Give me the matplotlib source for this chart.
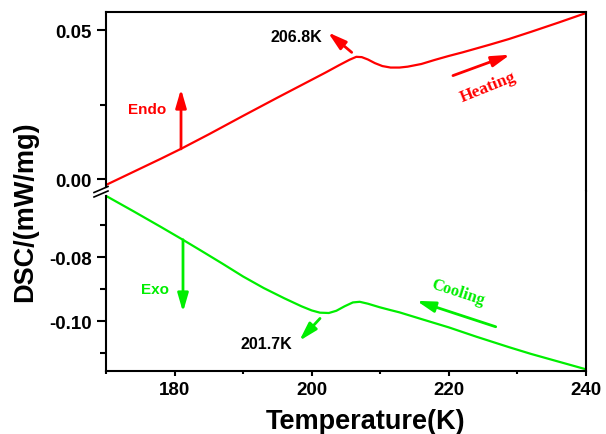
import matplotlib
matplotlib.use("Agg")
import matplotlib.pyplot as plt
from matplotlib.lines import Line2D
from matplotlib.ticker import FixedLocator, FormatStrFormatter

plt.rcParams['font.family'] = ['Liberation Sans', 'DejaVu Sans']
plt.rcParams['font.weight'] = 'bold'

# heating curve (red, upper panel)
temp_heat = [170, 174, 178, 181, 185, 190, 195, 200, 202, 204, 205.5, 206.5, 207.3,
             208.2, 209.2, 210.3, 211.5, 212.8, 214, 216, 218, 220, 222, 224, 226,
             228.8, 232, 236, 240]
dsc_heat = [-0.0020, 0.0024, 0.0068, 0.0102, 0.0150, 0.0212, 0.0273, 0.0333, 0.0357,
            0.0382, 0.0400, 0.0410, 0.0409, 0.0401, 0.0389, 0.0379, 0.0374, 0.0374,
            0.0377, 0.0386, 0.0400, 0.0413, 0.0425, 0.0438, 0.0451, 0.0470, 0.0494,
            0.0525, 0.0557]

# cooling curve (green, lower panel)
temp_cool = [170, 174, 178, 181.2, 184, 187, 190, 193, 196, 198.5, 200, 201.2, 202.5,
             203.6, 204.8, 206, 207, 208.2, 209.9, 211.5, 212.8, 216, 220, 224, 228.8,
             232, 236, 240]
dsc_cool = [-0.0608, -0.0656, -0.0705, -0.0745, -0.0781, -0.0820, -0.0860, -0.0896,
            -0.0928, -0.0953, -0.0966, -0.0973, -0.0974, -0.0967, -0.0953, -0.0941,
            -0.0939, -0.0945, -0.0956, -0.0965, -0.0972, -0.0993, -0.1019, -0.1048,
            -0.1081, -0.1102, -0.1126, -0.1150]

red = '#ff0000'
green = '#00ee00'

fig = plt.figure(figsize=(6.06, 4.35), dpi=100)
ax1 = fig.add_axes([0.1749, 0.5586, 0.7921, 0.4115])
ax2 = fig.add_axes([0.1749, 0.1448, 0.7921, 0.4138])

ax1.plot(temp_heat, dsc_heat, color=red, lw=1.6)
ax2.plot(temp_cool, dsc_cool, color=green, lw=1.6)

for ax in (ax1, ax2):
    ax.set_xlim(170, 240)
    for s in ax.spines.values():
        s.set_linewidth(1.5)
    ax.tick_params(axis='y', which='major', direction='out', length=6.5, width=1.5,
                   labelsize=13.5, pad=3.5)
    ax.tick_params(axis='y', which='minor', direction='out', length=4.3, width=1.5)

ax1.set_ylim(-0.00403, 0.05604)
ax1.spines['bottom'].set_visible(False)
ax1.spines['left'].set_bounds(-0.0027, 0.05604)
ax1.tick_params(axis='x', which='both', bottom=False, labelbottom=False)
ax1.yaxis.set_major_locator(FixedLocator([0.0, 0.05]))
ax1.yaxis.set_minor_locator(FixedLocator([0.025]))
ax1.yaxis.set_major_formatter(FormatStrFormatter('%.2f'))

ax2.set_ylim(-0.11553, -0.05928)
ax2.spines['top'].set_visible(False)
ax2.spines['left'].set_bounds(-0.11553, -0.0608)
ax2.yaxis.set_major_locator(FixedLocator([-0.08, -0.10]))
ax2.yaxis.set_minor_locator(FixedLocator([-0.07, -0.09, -0.11]))
ax2.yaxis.set_major_formatter(FormatStrFormatter('%.2f'))
ax2.xaxis.set_major_locator(FixedLocator([180, 200, 220, 240]))
ax2.xaxis.set_minor_locator(FixedLocator([170, 190, 210, 230]))
ax2.tick_params(axis='x', which='major', direction='out', length=3.5, width=1.5,
                labelsize=13.5, pad=3.5)
ax2.tick_params(axis='x', which='minor', direction='out', length=2.5, width=1.5)

# axis break marks
W, H = 606.0, 435.0
for y0 in (193.5, 198.0):
    fig.add_artist(Line2D([94 / W, 108 / W], [1 - y0 / H, 1 - (y0 - 6) / H],
                          transform=fig.transFigure, color='black', lw=1.2))

fig.text(25 / W, 1 - 211.7 / H, 'DSC/(mW/mg)', rotation=90, ha='center', va='center',
         fontsize=19.5, fontweight='bold')
fig.text(366 / W, 1 - 429 / H, 'Temperature(K)', ha='center', va='baseline',
         fontsize=19.5, fontweight='bold')

arrow = dict(arrowstyle='-|>,head_length=1.1,head_width=0.32', mutation_scale=10,
             lw=2, shrinkA=0, shrinkB=0)

# upper panel annotations
ax1.text(175.98, 0.0235, 'Endo', color=red, fontsize=11, ha='center', va='center')
ax1.annotate('', xy=(180.94, 0.0302), xytext=(180.94, 0.0101),
             arrowprops=dict(arrow, color=red))
ax1.text(197.71, 0.0477, '206.8K', color='black', fontsize=11.5, ha='center', va='center')
ax1.annotate('', xy=(202.37, 0.0492), xytext=(205.83, 0.0425),
             arrowprops=dict(arrow, color=red))
ax1.text(225.71, 0.0309, 'Heating', color=red, fontsize=12.5, rotation=22,
         ha='center', va='center', family='Liberation Serif')
ax1.annotate('', xy=(228.92, 0.0417), xytext=(220.6, 0.0347),
             arrowprops=dict(arrow, color=red))

# lower panel annotations
ax2.text(177.15, -0.0899, 'Exo', color=green, fontsize=11, ha='center', va='center')
ax2.annotate('', xy=(181.23, -0.0971), xytext=(181.23, -0.0745),
             arrowprops=dict(arrow, color=green))
ax2.text(193.33, -0.1068, '201.7K', color='black', fontsize=11.5, ha='center', va='center')
ax2.annotate('', xy=(198.19, -0.1061), xytext=(201.21, -0.0991),
             arrowprops=dict(arrow, color=green))
ax2.text(221.33, -0.0908, 'Cooling', color=green, fontsize=12, rotation=-18,
         ha='center', va='center', family='Liberation Serif')
ax2.annotate('', xy=(215.3, -0.0936), xytext=(226.83, -0.1017),
             arrowprops=dict(arrow, color=green))

fig.savefig('out.png', dpi=100)
